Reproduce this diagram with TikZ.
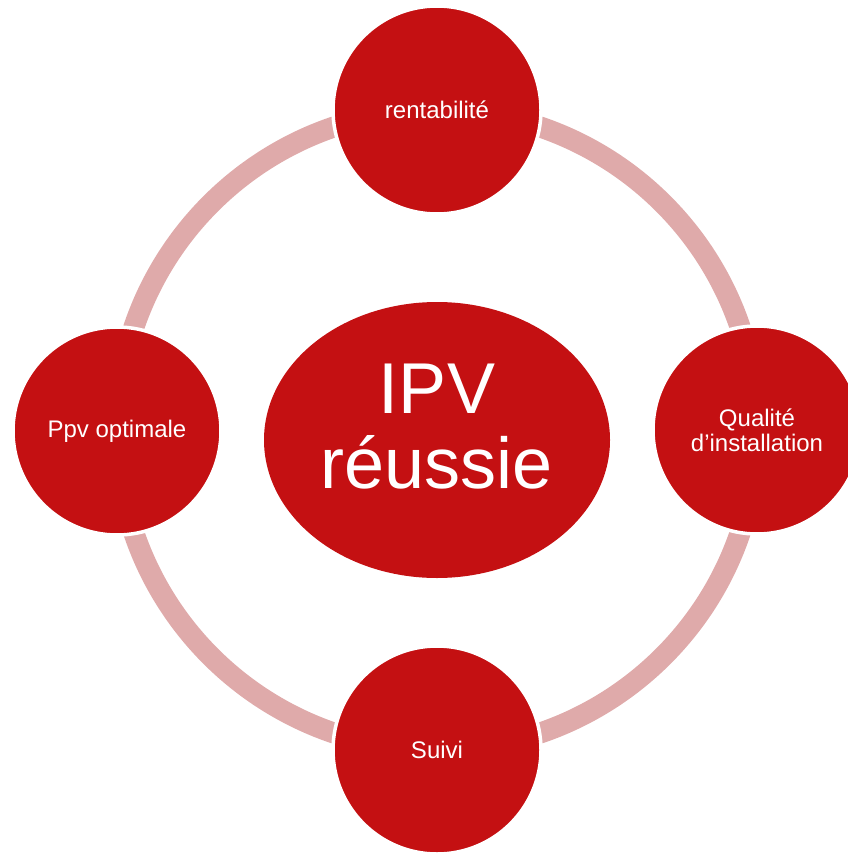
\documentclass[tikz,border=0pt]{standalone}
\usepackage{fontspec}
\setmainfont{Liberation Sans}
\usetikzlibrary{shapes.geometric}
\definecolor{ipvred}{HTML}{C41012}
\definecolor{ringpink}{HTML}{DFAAAA}

\begin{document}
\begin{tikzpicture}[x=1pt,y=-1pt,
		ring/.style={draw=ringpink,line width=21pt},
		petal/.style={circle,fill=ipvred,draw=white,line width=3.5pt,minimum size=208pt,inner sep=0pt,text=white,align=center,font=\fontsize{24}{25}\selectfont},
		hub/.style={ellipse,fill=ipvred,minimum width=346pt,minimum height=276pt,inner sep=0pt},
		hubtext/.style={text=white,align=center,font=\fontsize{72}{75}\selectfont}]
				\useasboundingbox (0,0) rectangle (847,853);
				
				\coordinate (ringc) at (437,430);
				\draw[ring] (ringc) circle[radius=320pt];
				
				\node[hub] (hub) at (437,440) {};
				\node[hubtext] (hubtxt) at (437,427) {IPV\\réussie};
				
				\node[petal] (rent) at (437,110) {rentabilité};
				\node[petal] (qual) at (757,430) {Qualité\\d’installation};
				\node[petal] (suivi) at (437,750) {Suivi};
				\node[petal] (ppv) at (117,431) {Ppv optimale};
			\end{tikzpicture}
\end{document}
